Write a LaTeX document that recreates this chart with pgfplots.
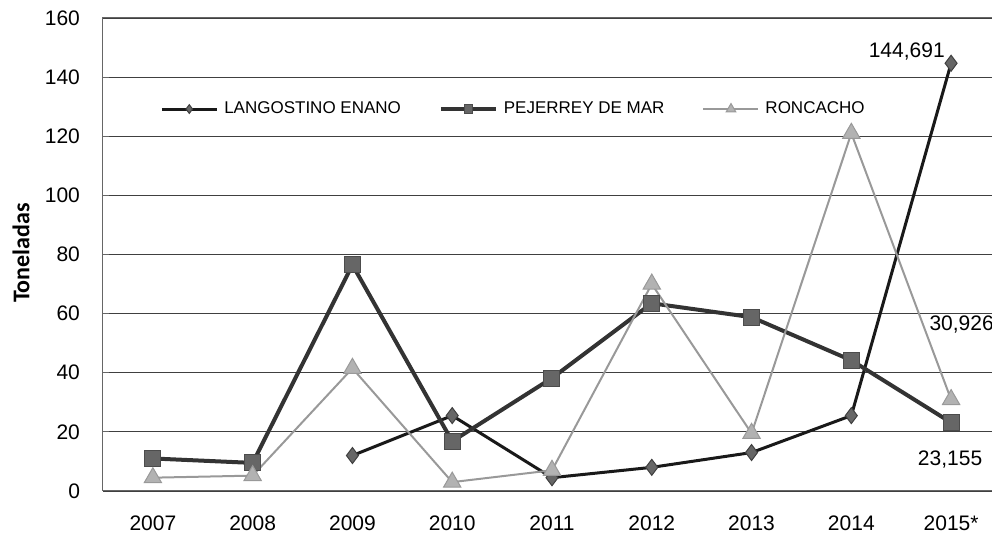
\documentclass[border=0pt]{standalone}
\usepackage{pgfplots}
\pgfplotsset{compat=1.18}
\usepackage{fontspec}
\setmainfont{Liberation Sans}
\newfontfamily\carlito{Carlito}
\begin{document}
\begin{tikzpicture}
\begin{axis}[
  at={(0,0)}, anchor=south west,
  scale only axis,
  width=449pt, height=236.5pt,
  xmin=-0.5, xmax=8.5,
  ymin=0, ymax=160,
  xtick={0,1,2,3,4,5,6,7,8},
  xticklabels={2007,2008,2009,2010,2011,2012,2013,2014,2015*},
  ytick={0,20,40,60,80,100,120,140,160},
  /pgf/number format/assume math mode=true,
  tick label style={font=\fontsize{10.5}{12}\selectfont},
  xticklabel style={yshift=-9pt},
  yticklabel style={xshift=-8pt},
  xtick style={draw=none},
  ytick style={black!60, line width=0.5pt},
  major tick length=3pt,
  tick align=inside,
  ymajorgrids,
  grid style={black!75, line width=0.6pt},
  axis line style={black!60, line width=0.5pt},
  legend columns=3,
  legend style={at={(axis cs:0.07,129.2)}, anchor=west, draw=none, fill=none,
    font=\fontsize{8.5}{10}\selectfont, inner sep=0pt,
    /tikz/every even column/.append style={column sep=17pt},
    /tikz/every odd column/.append style={column sep=1pt}},
  legend image code/.code={\draw[mark repeat=2,mark phase=2,#1,every mark/.append style={scale=0.55}] plot coordinates {(0pt,0pt) (13.75pt,0pt) (27.5pt,0pt)};},
]
\addplot[color=black!90, line width=1.5pt, mark=diamond*, mark size=4pt,
  mark options={fill=black!60, draw=black!75, line width=0.5pt}]
  coordinates {(2,12) (3,25.5) (4,4.5) (5,8) (6,13) (7,25.5) (8,144.691)};
\addlegendentry{LANGOSTINO ENANO}
\addplot[color=black!80, line width=2pt, mark=square*, mark size=4pt,
  mark options={fill=black!60, draw=black!70, line width=0.5pt}]
  coordinates {(0,11) (1,9.5) (2,76.5) (3,16.8) (4,38.2) (5,63.5) (6,58.8) (7,44.2) (8,23.155)};
\addlegendentry{PEJERREY DE MAR}
\addplot[color=black!40, line width=1pt, mark=triangle*, mark size=5pt,
  mark options={fill=black!30, draw=black!40, line width=0.5pt}]
  coordinates {(0,4.5) (1,5.2) (2,41.5) (3,3) (4,7) (5,70) (6,19.5) (7,121) (8,30.926)};
\addlegendentry{RONCACHO}
\node[anchor=east, font=\fontsize{10.5}{12}\selectfont, inner sep=0pt] at (axis cs:7.94,148.5) {144,691};
\node[anchor=west, font=\fontsize{10.5}{12}\selectfont, inner sep=0pt] at (axis cs:7.78,56.2) {30,926};
\node[anchor=center, font=\fontsize{10.5}{12}\selectfont, inner sep=0pt] at (axis cs:7.99,10.5) {23,155};
\end{axis}
\node[rotate=90, font=\carlito\bfseries\fontsize{12}{14}\selectfont] at (-41pt,119pt) {Toneladas};
\pgfresetboundingbox
\path (-51.5pt,-22pt) rectangle (444.5pt,245.5pt);
\end{tikzpicture}
\end{document}
